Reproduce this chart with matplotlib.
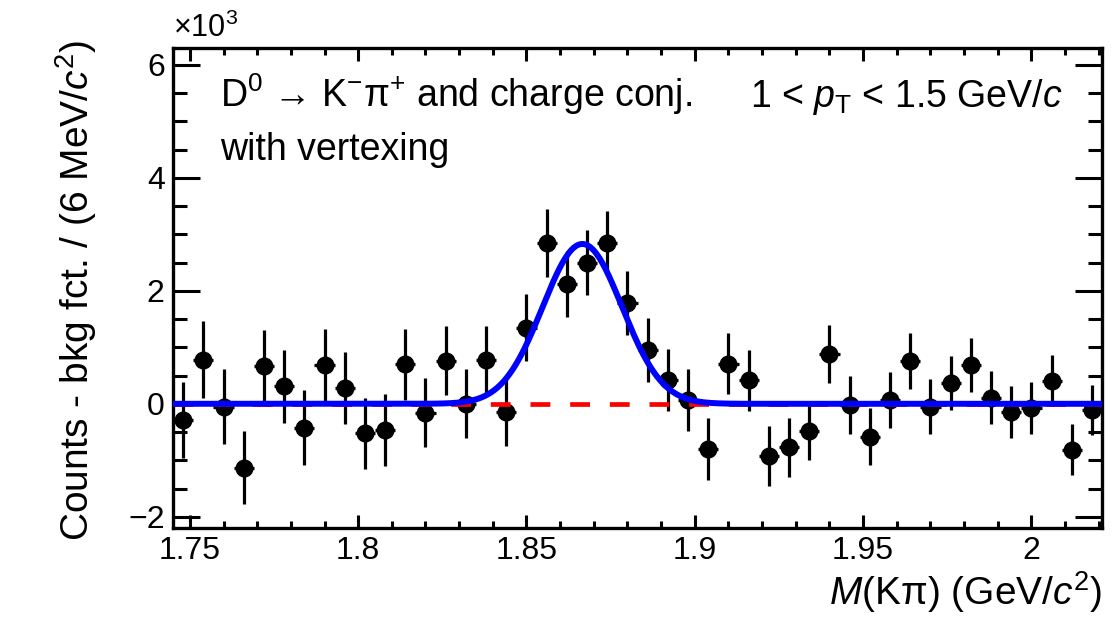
import numpy as np
import matplotlib
matplotlib.use("Agg")
import matplotlib.pyplot as plt
from matplotlib.ticker import MultipleLocator

plt.rcParams["font.family"] = ["Liberation Sans", "DejaVu Sans"]
plt.rcParams["mathtext.fontset"] = "custom"
plt.rcParams["mathtext.rm"] = "Liberation Sans"
plt.rcParams["mathtext.it"] = "Liberation Sans:italic"

# data: bin centres (GeV/c^2), counts - bkg (x10^3), errors (x10^3)
mass = [1.748, 1.754, 1.760, 1.766, 1.772, 1.778, 1.784, 1.790, 1.796, 1.802,
        1.808, 1.814, 1.820, 1.826, 1.832, 1.838, 1.844, 1.850, 1.856, 1.862,
        1.868, 1.874, 1.880, 1.886, 1.892, 1.898, 1.904, 1.910, 1.916, 1.922,
        1.928, 1.934, 1.940, 1.946, 1.952, 1.958, 1.964, 1.970, 1.976, 1.982,
        1.988, 1.994, 2.000, 2.006, 2.012, 2.018]
counts = [-0.29, 0.78, -0.05, -1.13, 0.67, 0.31, -0.42, 0.68, 0.28, -0.52,
          -0.46, 0.70, -0.16, 0.76, 0.00, 0.78, -0.14, 1.35, 2.85, 2.12,
          2.50, 2.85, 1.78, 0.95, 0.42, 0.07, -0.80, 0.71, 0.42, -0.92,
          -0.77, -0.49, 0.88, -0.02, -0.58, 0.07, 0.76, -0.05, 0.37, 0.68,
          0.11, -0.14, -0.07, 0.41, -0.81, -0.11]
errors = [0.67, 0.68, 0.67, 0.65, 0.64, 0.65, 0.66, 0.64, 0.64, 0.63,
          0.64, 0.63, 0.61, 0.61, 0.61, 0.60, 0.60, 0.60, 0.60, 0.58,
          0.58, 0.57, 0.57, 0.57, 0.55, 0.55, 0.55, 0.54, 0.54, 0.53,
          0.52, 0.50, 0.52, 0.51, 0.50, 0.49, 0.49, 0.49, 0.48, 0.48,
          0.47, 0.46, 0.46, 0.45, 0.45, 0.45]
bin_half = 0.003

# gaussian fit parameters
fit_mean = 1.8666
fit_sigma = 0.0118
fit_amp = 2.83

xmin, xmax = 1.745, 2.021
ymin, ymax = -2.2, 6.3

fig = plt.figure(figsize=(11.12, 6.26), dpi=100)
ax = fig.add_axes([0.1556, 0.1565, 0.8355, 0.7668])

ax.errorbar(mass, counts, yerr=errors, xerr=bin_half, fmt="o", color="black",
            ms=12, elinewidth=2.3, capsize=0, zorder=3)

xf = np.linspace(xmin, xmax, 600)
yf = fit_amp * np.exp(-0.5 * ((xf - fit_mean) / fit_sigma) ** 2)
ax.plot([xmin, xmax], [0, 0], color="red", lw=3.4, dashes=(4.2, 4.2), zorder=4)
ax.plot(xf, yf, color="blue", lw=4.3, zorder=5)

ax.set_xlim(xmin, xmax)
ax.set_ylim(ymin, ymax)
ax.xaxis.set_major_locator(MultipleLocator(0.05))
ax.xaxis.set_minor_locator(MultipleLocator(0.01))
ax.yaxis.set_major_locator(MultipleLocator(2))
ax.yaxis.set_minor_locator(MultipleLocator(0.5))
ax.xaxis.set_major_formatter(plt.FuncFormatter(lambda v, p: f"{v:g}"))
ax.yaxis.set_major_formatter(plt.FuncFormatter(lambda v, p: f"{v:g}".replace("-", "\u2212")))

ax.tick_params(which="both", direction="in", top=True, right=True, width=2.2, labelsize=23)
ax.tick_params(axis="x", which="major", length=9.5, pad=6)
ax.tick_params(axis="x", which="minor", length=5)
ax.tick_params(axis="y", which="major", length=19.5, pad=6)
ax.tick_params(axis="y", which="minor", length=10)
for s in ax.spines.values():
    s.set_linewidth(2.4)

ax.set_xlabel("$M$(Kπ) (GeV/$c^{2}$)", fontsize=28, loc="right")
ax.xaxis.set_label_coords(1.0, -0.085)
ax.set_ylabel(r"Counts - bkg fct. / (6 MeV/$c^{2}$)", fontsize=28, loc="top")
ax.yaxis.set_label_coords(-0.08, 1.017)

ax.text(0.0, 1.008, r"$\times$10$^{3}$", transform=ax.transAxes, fontsize=22,
        ha="left", va="bottom")
ax.text(0.0505, 0.877, "D$^{0}$ → K$^{\\mathrm{-}}$π$^{+}$ and charge conj.",
        transform=ax.transAxes, fontsize=27, ha="left", va="baseline")
ax.text(0.0505, 0.767, "with vertexing", transform=ax.transAxes, fontsize=27,
        ha="left", va="baseline")
ax.text(0.957, 0.877, r"1 < $p_{\rm T}$ < 1.5 GeV/$c$", transform=ax.transAxes,
        fontsize=27, ha="right", va="baseline")

plt.savefig("out.png", dpi=100)
